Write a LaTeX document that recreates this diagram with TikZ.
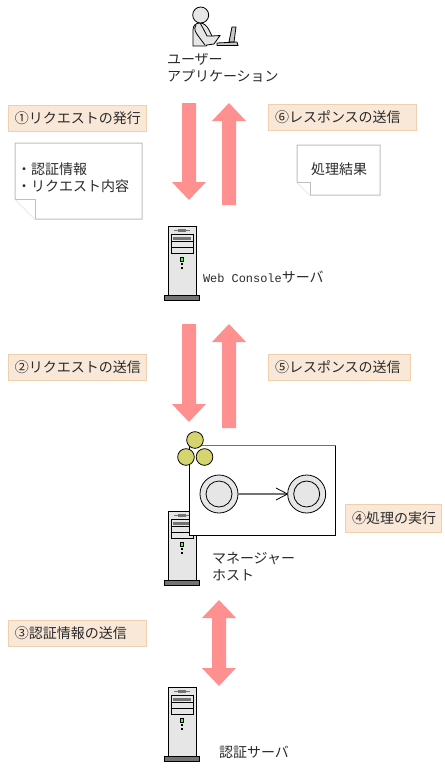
\documentclass[tikz,border=0pt]{standalone}
\usepackage{fontspec}
\setmainfont{Noto Sans CJK JP}
\newfontfamily\latinmono{Liberation Mono}
\usetikzlibrary{arrows.meta}
\definecolor{pinkarrow}{HTML}{FF9090}
\definecolor{labelfill}{HTML}{F9E8D8}
\definecolor{labeledge}{HTML}{F0CFAE}
\definecolor{notegrey}{HTML}{BEBEBE}
\definecolor{bodygrey}{HTML}{E6E6E6}
\definecolor{basegrey}{HTML}{737373}
\definecolor{txt}{HTML}{2A2A2A}
\definecolor{olive}{HTML}{D6D46E}
\tikzset{
  every node/.style={inner sep=0pt,outer sep=0pt,text=txt,font=\fontsize{10.5pt}{12.75pt}\selectfont},
  lbl/.style={anchor=west,align=left},
  tag/.style={draw=labeledge,fill=labelfill,line width=0.75pt,anchor=north west,inner xsep=5.25pt,text width=#1-10.5pt,align=left,minimum height=19.5pt},
  blockarrow/.style={fill=pinkarrow,draw=none},
  note/.style={draw=notegrey,fill=white,line width=0.75pt},
  srv/.style={draw=black,line width=0.6pt},
  outerstate/.style={circle,draw=black,fill=bodygrey,line width=0.6pt,minimum size=28.5pt},
  innerstate/.style={circle,draw=black,fill=bodygrey,line width=0.6pt,minimum size=19.5pt},
  ball/.style={circle,draw=black,fill=olive,line width=0.6pt,minimum size=12.5pt},
}
\newcommand{\downblock}[3]{%
  \fill[blockarrow] (#1-7,#2) -- (#1+7,#2) -- (#1+7,#3-18) -- (#1+17,#3-18) -- (#1,#3) -- (#1-17,#3-18) -- (#1-7,#3-18) -- cycle;}
\newcommand{\upblock}[3]{%
  \fill[blockarrow] (#1-7,#2) -- (#1+7,#2) -- (#1+7,#3+18) -- (#1+17,#3+18) -- (#1,#3) -- (#1-17,#3+18) -- (#1-7,#3+18) -- cycle;}
\newcommand{\serverpic}[1]{%
  \begin{scope}[shift={(168,#1)}]
    \fill[basegrey,draw=black,line width=0.4pt] (-3.5,69) rectangle (31.5,74);
    \draw[srv,fill=bodygrey] (0,0) rectangle (28,69);
    \draw[basegrey,line width=0.6pt] (6,4.5) -- (22,4.5);
    \draw[basegrey,line width=1.6pt] (10,4.5) -- (18,4.5);
    \draw[srv,fill=bodygrey] (3,8) rectangle (25,27);
    \draw[srv] (3,21) -- (25,21);
    \fill[basegrey] (5,10.5) rectangle (23,14);
    \draw[black,line width=0.9pt] (3,15.5) -- (25,15.5);
    \fill[green!70!white,draw=black,line width=0.4pt] (12.7,31) rectangle (15.3,35);
    \fill[black] (13,37) rectangle (15,39);
    \fill[black] (13,41) rectangle (15,43);
  \end{scope}}
\begin{document}
\begin{tikzpicture}[x=0.75pt,y=-0.75pt]
\useasboundingbox (0,0) rectangle (444,769);
% user
\begin{scope}[line width=0.6pt]
  \draw[fill=bodygrey] (193,46) -- (193,30) .. controls (193,25) and (196,23) .. (200,23) .. controls (204,23) and (207,26) .. (209,30) -- (212,36) -- (220,35.5) -- (214,44) -- (207,45) -- (206,46) -- cycle;
  \draw (196,25) .. controls (193,29) and (196,33) .. (199,37) -- (205,45);
  \draw (200,23) .. controls (203,28) and (205,32) .. (207,36) -- (212,36);
  \draw[fill=bodygrey] (200.7,15) circle[radius=8];
  \draw[fill=bodygrey!70!gray] (229,42) -- (232,27) -- (236,27) -- (234,42) -- cycle;
  \draw[fill=bodygrey!70!gray] (217,43) -- (237,42) -- (238,45.5) -- (217,45.5) -- cycle;
\end{scope}
\node[lbl] (user) at (167,67.5) {ユーザー\\アプリケーション};
% block arrows, first pair
\downblock{189}{103}{200}
\upblock{229}{205}{103}
% tags
\node[tag=104pt] (tag1) at (8,105) {①リクエストの発行};
\node[tag=111pt] (tag6) at (268,104) {⑥レスポンスの送信};
\node[tag=104pt] (tag2) at (8,354) {②リクエストの送信};
\node[tag=107pt] (tag5) at (268,354) {⑤レスポンスの送信};
\node[tag=72pt,minimum height=21pt] (tag4) at (345,504) {④処理の実行};
\node[tag=103.5pt] (tag3) at (8,620) {③認証情報の送信};
% notes
\draw[note] (15,143) -- (142,143) -- (142,219) -- (35,219) -- (15,199) -- cycle;
\draw[note] (15,199) -- (35,199) -- (35,219);
\node[lbl] (req) at (17,177.5) {・認証情報\\・リクエスト内容};
\draw[note] (297,145) -- (380,145) -- (380,195) -- (310,195) -- (297,182) -- cycle;
\draw[note] (297,182) -- (310,182) -- (310,195);
\node[lbl] (res) at (311,169) {処理結果};
% web console server
\serverpic{226}
\node[lbl,font=\latinmono\fontsize{8.95pt}{12pt}\selectfont] (web) at (203,277) {Web Console\fontsize{10.5pt}{12pt}\rmfamily サーバ};
% second pair
\downblock{189}{324}{422}
\upblock{229}{428}{324}
% manager host
\serverpic{511}
\node[lbl] (mgr) at (212,566.5) {マネージャー\\ホスト};
% state box
\draw[black,line width=0.75pt,fill=white] (189.3,445) rectangle (335.7,535);
\draw[basegrey,line width=0.75pt] (189.3,445) -- (335.7,445);
\node[ball] (b1) at (195,440) {};
\node[ball] (b2) at (186,457) {};
\node[ball] (b3) at (204.5,457) {};
\node[outerstate] (s1) at (219,494) {};
\node[innerstate] at (s1) {};
\node[outerstate] (s2) at (306.7,494) {};
\node[innerstate] at (s2) {};
\draw[basegrey,line width=1.3pt] (s1) -- (s2);
\draw[black,line width=0.6pt] (276,488) -- (287.5,494) -- (276,500);
% third arrow
\fill[blockarrow] (212,618) -- (202,618) -- (219,600) -- (236,618) -- (226,618) -- (226,668) -- (236,668) -- (219,686) -- (202,668) -- (212,668) -- cycle;
% auth server
\serverpic{687}
\node[lbl] (auth) at (219,752) {認証サーバ};
\end{tikzpicture}
\end{document}
